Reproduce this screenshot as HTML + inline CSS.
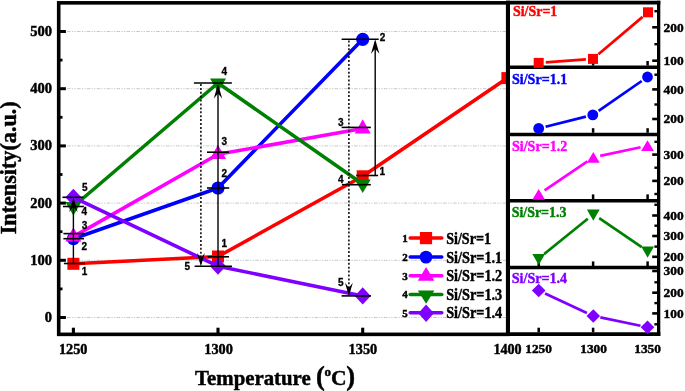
<!DOCTYPE html>
<html><head><meta charset="utf-8"><title>chart</title>
<style>html,body{margin:0;padding:0;background:#fff;}svg{display:block;}</style>
</head><body>
<svg width="685" height="391" viewBox="0 0 685 391">
<defs><filter id="idf" x="0" y="0" width="685" height="391" filterUnits="userSpaceOnUse" color-interpolation-filters="sRGB"><feOffset dx="0" dy="0"/></filter><clipPath id="mainclip"><rect x="57" y="1" width="450.5" height="335"/></clipPath></defs>
<g filter="url(#idf)">
<rect x="0" y="0" width="685" height="391" fill="#fff"/>
<line x1="67" x2="506" y1="317.5" y2="317.5" stroke="#c2c2c2" stroke-width="0.9" stroke-dasharray="3.6 1.3 1.2 1.3 1.2 1.3"/>
<line x1="67" x2="506" y1="260.3" y2="260.3" stroke="#c2c2c2" stroke-width="0.9" stroke-dasharray="3.6 1.3 1.2 1.3 1.2 1.3"/>
<line x1="67" x2="506" y1="203.1" y2="203.1" stroke="#c2c2c2" stroke-width="0.9" stroke-dasharray="3.6 1.3 1.2 1.3 1.2 1.3"/>
<line x1="67" x2="506" y1="145.9" y2="145.9" stroke="#c2c2c2" stroke-width="0.9" stroke-dasharray="3.6 1.3 1.2 1.3 1.2 1.3"/>
<line x1="67" x2="506" y1="88.7" y2="88.7" stroke="#c2c2c2" stroke-width="0.9" stroke-dasharray="3.6 1.3 1.2 1.3 1.2 1.3"/>
<line x1="67" x2="506" y1="31.5" y2="31.5" stroke="#c2c2c2" stroke-width="0.9" stroke-dasharray="3.6 1.3 1.2 1.3 1.2 1.3"/>
<g clip-path="url(#mainclip)">
<polyline points="73.4,263.8 218.0,256.5 362.7,176.3 507.4,78.1" fill="none" stroke="#ff0000" stroke-width="3.6" stroke-linejoin="round"/>
<rect x="67.4" y="257.8" width="12" height="12" fill="#ff0000"/>
<rect x="212.0" y="250.5" width="12" height="12" fill="#ff0000"/>
<rect x="356.7" y="170.3" width="12" height="12" fill="#ff0000"/>
<rect x="501.4" y="72.1" width="12" height="12" fill="#ff0000"/>
<polyline points="73.4,238.7 218.0,188.0 362.7,39.3" fill="none" stroke="#0000ff" stroke-width="3.6" stroke-linejoin="round"/>
<circle cx="73.4" cy="238.7" r="6.6" fill="#0000ff"/>
<circle cx="218.0" cy="188.0" r="6.6" fill="#0000ff"/>
<circle cx="362.7" cy="39.3" r="6.6" fill="#0000ff"/>
<polyline points="73.4,236.6 218.0,154.2 362.7,128.6" fill="none" stroke="#ff00ff" stroke-width="3.6" stroke-linejoin="round"/>
<polygon points="73.4,227.2 81.4,241.5 65.4,241.5" fill="#ff00ff"/>
<polygon points="218.0,144.8 226.0,159.1 210.0,159.1" fill="#ff00ff"/>
<polygon points="362.7,119.2 370.7,133.5 354.7,133.5" fill="#ff00ff"/>
<polyline points="73.4,206.5 218.0,83.0 362.7,184.0" fill="none" stroke="#008000" stroke-width="3.6" stroke-linejoin="round"/>
<polygon points="65.4,201.9 81.4,201.9 73.4,215.5" fill="#008000"/>
<polygon points="210.0,78.4 226.0,78.4 218.0,92.0" fill="#008000"/>
<polygon points="354.7,179.4 370.7,179.4 362.7,193.0" fill="#008000"/>
<polyline points="73.4,197.3 218.0,266.2 362.7,295.9" fill="none" stroke="#8000ff" stroke-width="3.6" stroke-linejoin="round"/>
<polygon points="73.4,188.7 81.4,197.3 73.4,205.9 65.4,197.3" fill="#8000ff"/>
<polygon points="218.0,257.6 226.0,266.2 218.0,274.8 210.0,266.2" fill="#8000ff"/>
<polygon points="362.7,287.3 370.7,295.9 362.7,304.5 354.7,295.9" fill="#8000ff"/>
</g>
<line x1="62.4" x2="83.3" y1="197.3" y2="197.3" stroke="#000" stroke-width="1.6"/>
<line x1="63" x2="83.9" y1="206.5" y2="206.5" stroke="#000" stroke-width="1.6"/>
<line x1="63.4" x2="84.7" y1="233.6" y2="233.6" stroke="#000" stroke-width="1.6"/>
<line x1="63.4" x2="84" y1="238.7" y2="238.7" stroke="#000" stroke-width="1.6"/>
<line x1="63.9" x2="85" y1="263.5" y2="263.5" stroke="#000" stroke-width="1.6"/>
<line x1="193.9" x2="231.9" y1="83" y2="83" stroke="#000" stroke-width="1.6"/>
<line x1="207" x2="229" y1="152.2" y2="152.2" stroke="#000" stroke-width="1.6"/>
<line x1="207" x2="229.2" y1="188" y2="188" stroke="#000" stroke-width="1.6"/>
<line x1="207.7" x2="229" y1="256.8" y2="256.8" stroke="#000" stroke-width="1.6"/>
<line x1="194.6" x2="232" y1="266.2" y2="266.2" stroke="#000" stroke-width="1.6"/>
<line x1="341.6" x2="378.7" y1="39.3" y2="39.3" stroke="#000" stroke-width="1.6"/>
<line x1="341.6" x2="370.8" y1="127.4" y2="127.4" stroke="#000" stroke-width="1.6"/>
<line x1="356.2" x2="378.1" y1="175.5" y2="175.5" stroke="#000" stroke-width="1.6"/>
<line x1="341.9" x2="370.8" y1="184.7" y2="184.7" stroke="#000" stroke-width="1.6"/>
<line x1="341.6" x2="371" y1="295.9" y2="295.9" stroke="#000" stroke-width="1.6"/>
<line x1="73.4" x2="73.4" y1="200.6" y2="263.5" stroke="#000" stroke-width="1.4"/>
<polygon points="73.4,197.6 77.60000000000001,212.1 73.4,207.1 69.2,212.1" fill="#000"/>
<line x1="218" x2="218" y1="87.0" y2="266" stroke="#000" stroke-width="1.4"/>
<polygon points="218,84.0 222.2,98.5 218,93.5 213.8,98.5" fill="#000"/>
<line x1="375.2" x2="375.2" y1="42.2" y2="175.5" stroke="#000" stroke-width="1.4"/>
<polygon points="375.2,39.2 379.4,53.7 375.2,48.7 371.0,53.7" fill="#000"/>
<line x1="200.9" x2="200.9" y1="84" y2="261.5" stroke="#000" stroke-width="1.5" stroke-dasharray="2 1.9"/>
<polygon points="200.9,266.5 204.8,253.0 200.9,258.0 197.0,253.0" fill="#000"/>
<line x1="348.9" x2="348.9" y1="40.5" y2="291.2" stroke="#000" stroke-width="1.5" stroke-dasharray="2 1.9"/>
<polygon points="348.9,296.2 352.79999999999995,282.7 348.9,287.7 345.0,282.7" fill="#000"/>
<text x="81.89999999999999" y="191.35" font-family="Liberation Sans, sans-serif" font-weight="bold" font-size="10px" fill="#000" stroke="#000" stroke-width="0.3">5</text>
<text x="81.6" y="214.95" font-family="Liberation Sans, sans-serif" font-weight="bold" font-size="10px" fill="#000" stroke="#000" stroke-width="0.3">4</text>
<text x="81.8" y="229.15" font-family="Liberation Sans, sans-serif" font-weight="bold" font-size="10px" fill="#000" stroke="#000" stroke-width="0.3">3</text>
<text x="81.6" y="249.65" font-family="Liberation Sans, sans-serif" font-weight="bold" font-size="10px" fill="#000" stroke="#000" stroke-width="0.3">2</text>
<text x="81.8" y="275.15" font-family="Liberation Sans, sans-serif" font-weight="bold" font-size="10px" fill="#000" stroke="#000" stroke-width="0.3">1</text>
<text x="221.4" y="75.45" font-family="Liberation Sans, sans-serif" font-weight="bold" font-size="10px" fill="#000" stroke="#000" stroke-width="0.3">4</text>
<text x="221.4" y="145.15" font-family="Liberation Sans, sans-serif" font-weight="bold" font-size="10px" fill="#000" stroke="#000" stroke-width="0.3">3</text>
<text x="221.4" y="177.05" font-family="Liberation Sans, sans-serif" font-weight="bold" font-size="10px" fill="#000" stroke="#000" stroke-width="0.3">2</text>
<text x="221.4" y="247.45" font-family="Liberation Sans, sans-serif" font-weight="bold" font-size="10px" fill="#000" stroke="#000" stroke-width="0.3">1</text>
<text x="184.60000000000002" y="269.65" font-family="Liberation Sans, sans-serif" font-weight="bold" font-size="10px" fill="#000" stroke="#000" stroke-width="0.3">5</text>
<text x="379.7" y="41.15" font-family="Liberation Sans, sans-serif" font-weight="bold" font-size="10px" fill="#000" stroke="#000" stroke-width="0.3">2</text>
<text x="338.0" y="125.55" font-family="Liberation Sans, sans-serif" font-weight="bold" font-size="10px" fill="#000" stroke="#000" stroke-width="0.3">3</text>
<text x="379.40000000000003" y="175.25" font-family="Liberation Sans, sans-serif" font-weight="bold" font-size="10px" fill="#000" stroke="#000" stroke-width="0.3">1</text>
<text x="338.0" y="183.25" font-family="Liberation Sans, sans-serif" font-weight="bold" font-size="10px" fill="#000" stroke="#000" stroke-width="0.3">4</text>
<text x="338.0" y="285.55" font-family="Liberation Sans, sans-serif" font-weight="bold" font-size="10px" fill="#000" stroke="#000" stroke-width="0.3">5</text>
<rect x="58.7" y="2.85" width="449" height="331.5" fill="none" stroke="#000" stroke-width="3.6"/>
<line x1="60" x2="65.9" y1="317.5" y2="317.5" stroke="#000" stroke-width="3"/>
<line x1="60" x2="65.9" y1="260.3" y2="260.3" stroke="#000" stroke-width="3"/>
<line x1="60" x2="65.9" y1="203.1" y2="203.1" stroke="#000" stroke-width="3"/>
<line x1="60" x2="65.9" y1="145.9" y2="145.9" stroke="#000" stroke-width="3"/>
<line x1="60" x2="65.9" y1="88.7" y2="88.7" stroke="#000" stroke-width="3"/>
<line x1="60" x2="65.9" y1="31.5" y2="31.5" stroke="#000" stroke-width="3"/>
<line x1="60" x2="62.5" y1="288.9" y2="288.9" stroke="#000" stroke-width="2.8"/>
<line x1="60" x2="62.5" y1="231.7" y2="231.7" stroke="#000" stroke-width="2.8"/>
<line x1="60" x2="62.5" y1="174.5" y2="174.5" stroke="#000" stroke-width="2.8"/>
<line x1="60" x2="62.5" y1="117.3" y2="117.3" stroke="#000" stroke-width="2.8"/>
<line x1="60" x2="62.5" y1="60.1" y2="60.1" stroke="#000" stroke-width="2.8"/>
<line x1="73.4" x2="73.4" y1="327.7" y2="333" stroke="#000" stroke-width="3.1"/>
<line x1="218.0" x2="218.0" y1="327.7" y2="333" stroke="#000" stroke-width="3.1"/>
<line x1="362.7" x2="362.7" y1="327.7" y2="333" stroke="#000" stroke-width="3.1"/>
<text stroke="#000" x="52" y="322.0" font-family="Liberation Serif, serif" font-weight="bold" stroke-width="0.45" paint-order="stroke" font-size="14.5px" text-anchor="end" fill="#000" textLength="7.2" lengthAdjust="spacingAndGlyphs">0</text>
<text stroke="#000" x="52" y="264.8" font-family="Liberation Serif, serif" font-weight="bold" stroke-width="0.45" paint-order="stroke" font-size="14.5px" text-anchor="end" fill="#000" textLength="21.8" lengthAdjust="spacingAndGlyphs">100</text>
<text stroke="#000" x="52" y="207.6" font-family="Liberation Serif, serif" font-weight="bold" stroke-width="0.45" paint-order="stroke" font-size="14.5px" text-anchor="end" fill="#000" textLength="21.8" lengthAdjust="spacingAndGlyphs">200</text>
<text stroke="#000" x="52" y="150.4" font-family="Liberation Serif, serif" font-weight="bold" stroke-width="0.45" paint-order="stroke" font-size="14.5px" text-anchor="end" fill="#000" textLength="21.8" lengthAdjust="spacingAndGlyphs">300</text>
<text stroke="#000" x="52" y="93.2" font-family="Liberation Serif, serif" font-weight="bold" stroke-width="0.45" paint-order="stroke" font-size="14.5px" text-anchor="end" fill="#000" textLength="21.8" lengthAdjust="spacingAndGlyphs">400</text>
<text stroke="#000" x="52" y="36.0" font-family="Liberation Serif, serif" font-weight="bold" stroke-width="0.45" paint-order="stroke" font-size="14.5px" text-anchor="end" fill="#000" textLength="21.8" lengthAdjust="spacingAndGlyphs">500</text>
<text stroke="#000" x="73.2" y="353.9" font-family="Liberation Serif, serif" font-weight="bold" stroke-width="0.45" paint-order="stroke" font-size="14.5px" text-anchor="middle" fill="#000" textLength="28.6" lengthAdjust="spacingAndGlyphs">1250</text>
<text stroke="#000" x="218.6" y="353.9" font-family="Liberation Serif, serif" font-weight="bold" stroke-width="0.45" paint-order="stroke" font-size="14.5px" text-anchor="middle" fill="#000" textLength="28.6" lengthAdjust="spacingAndGlyphs">1300</text>
<text stroke="#000" x="362.9" y="353.9" font-family="Liberation Serif, serif" font-weight="bold" stroke-width="0.45" paint-order="stroke" font-size="14.5px" text-anchor="middle" fill="#000" textLength="28.6" lengthAdjust="spacingAndGlyphs">1350</text>
<text stroke="#000" x="521.6" y="353.9" font-family="Liberation Serif, serif" font-weight="bold" stroke-width="0.45" paint-order="stroke" font-size="14.5px" text-anchor="end" fill="#000" textLength="28.2" lengthAdjust="spacingAndGlyphs">1400</text>
<text stroke="#000" x="195.1" y="384.5" font-family="Liberation Serif, serif" font-weight="bold" stroke-width="0.45" paint-order="stroke" font-size="20.3px" fill="#000" textLength="115.6" lengthAdjust="spacingAndGlyphs">Temperature</text>
<text stroke="#000" x="315.9" y="384.8" font-family="Liberation Serif, serif" font-weight="bold" stroke-width="0.45" paint-order="stroke" font-size="26.5px" fill="#000">(</text>
<text stroke="#000" x="324.6" y="376.1" font-family="Liberation Serif, serif" font-weight="bold" stroke-width="0.45" paint-order="stroke" font-size="13px" fill="#000">o</text>
<text stroke="#000" x="330.9" y="384.9" font-family="Liberation Serif, serif" font-weight="bold" stroke-width="0.45" paint-order="stroke" font-size="21.5px" fill="#000">C</text>
<text stroke="#000" x="346.2" y="384.8" font-family="Liberation Serif, serif" font-weight="bold" stroke-width="0.45" paint-order="stroke" font-size="26.5px" fill="#000">)</text>
<text stroke="#000" transform="translate(16.3,234.3) rotate(-90)" font-family="Liberation Serif, serif" font-weight="bold" stroke-width="0.45" paint-order="stroke" font-size="22.4px" fill="#000" textLength="133" lengthAdjust="spacingAndGlyphs">Intensity(a.u.)</text>
<line x1="410.2" x2="441.8" y1="238.1" y2="238.1" stroke="#ff0000" stroke-width="3.5" stroke-linecap="round"/>
<rect x="419.9" y="232.0" width="12.2" height="12.2" fill="#ff0000"/>
<text stroke="#000" x="446.2" y="243.7" font-family="Liberation Serif, serif" font-weight="bold" stroke-width="0.45" paint-order="stroke" font-size="16.2px" fill="#000" textLength="44.8" lengthAdjust="spacingAndGlyphs">Si/Sr=1</text>
<text stroke="#000" x="407.8" y="241.9" font-family="Liberation Serif, serif" font-weight="bold" stroke-width="0.45" paint-order="stroke" font-size="11px" text-anchor="end" fill="#000">1</text>
<line x1="410.2" x2="441.8" y1="257.1" y2="257.1" stroke="#0000ff" stroke-width="3.5" stroke-linecap="round"/>
<circle cx="426.0" cy="257.1" r="6.4" fill="#0000ff"/>
<text stroke="#000" x="446.2" y="262.7" font-family="Liberation Serif, serif" font-weight="bold" stroke-width="0.45" paint-order="stroke" font-size="16.2px" fill="#000" textLength="56" lengthAdjust="spacingAndGlyphs">Si/Sr=1.1</text>
<text stroke="#000" x="407.8" y="260.9" font-family="Liberation Serif, serif" font-weight="bold" stroke-width="0.45" paint-order="stroke" font-size="11px" text-anchor="end" fill="#000">2</text>
<line x1="410.2" x2="441.8" y1="275.8" y2="275.8" stroke="#ff00ff" stroke-width="3.5" stroke-linecap="round"/>
<polygon points="426.1,267.0 434.4,280.7 417.8,280.7" fill="#ff00ff"/>
<text stroke="#000" x="446.2" y="281.4" font-family="Liberation Serif, serif" font-weight="bold" stroke-width="0.45" paint-order="stroke" font-size="16.2px" fill="#000" textLength="56" lengthAdjust="spacingAndGlyphs">Si/Sr=1.2</text>
<text stroke="#000" x="407.8" y="279.6" font-family="Liberation Serif, serif" font-weight="bold" stroke-width="0.45" paint-order="stroke" font-size="11px" text-anchor="end" fill="#000">3</text>
<line x1="410.2" x2="441.8" y1="294.4" y2="294.4" stroke="#008000" stroke-width="3.5" stroke-linecap="round"/>
<polygon points="417.8,290.5 434.4,290.5 426.1,303.7" fill="#008000"/>
<text stroke="#000" x="446.2" y="300.0" font-family="Liberation Serif, serif" font-weight="bold" stroke-width="0.45" paint-order="stroke" font-size="16.2px" fill="#000" textLength="56" lengthAdjust="spacingAndGlyphs">Si/Sr=1.3</text>
<text stroke="#000" x="407.8" y="298.2" font-family="Liberation Serif, serif" font-weight="bold" stroke-width="0.45" paint-order="stroke" font-size="11px" text-anchor="end" fill="#000">4</text>
<line x1="410.2" x2="441.8" y1="312.8" y2="312.8" stroke="#8000ff" stroke-width="3.5" stroke-linecap="round"/>
<polygon points="426.1,304.4 433.9,313.2 426.1,322.0 418.3,313.2" fill="#8000ff"/>
<text stroke="#000" x="446.2" y="318.4" font-family="Liberation Serif, serif" font-weight="bold" stroke-width="0.45" paint-order="stroke" font-size="16.2px" fill="#000" textLength="56" lengthAdjust="spacingAndGlyphs">Si/Sr=1.4</text>
<text stroke="#000" x="407.8" y="316.6" font-family="Liberation Serif, serif" font-weight="bold" stroke-width="0.45" paint-order="stroke" font-size="11px" text-anchor="end" fill="#000">5</text>
<rect x="508" y="3" width="151" height="331" fill="#fff"/>
<line x1="508" x2="659" y1="67.3" y2="67.3" stroke="#000" stroke-width="3.5"/>
<line x1="508" x2="659" y1="134.5" y2="134.5" stroke="#000" stroke-width="3.5"/>
<line x1="508" x2="659" y1="200.7" y2="200.7" stroke="#000" stroke-width="3.5"/>
<line x1="508" x2="659" y1="267.6" y2="267.6" stroke="#000" stroke-width="3.5"/>
<line x1="508" x2="508" y1="0.8" y2="336" stroke="#000" stroke-width="4"/>
<line x1="658.65" x2="658.65" y1="0.8" y2="336" stroke="#000" stroke-width="3.3"/>
<line x1="506" x2="660.3" y1="2.7" y2="2.7" stroke="#000" stroke-width="3.8"/>
<line x1="506" x2="660.3" y1="334.1" y2="334.1" stroke="#000" stroke-width="3.8"/>
<line x1="538.7" x2="538.7" y1="60.99999999999999" y2="65.6" stroke="#000" stroke-width="2.5"/>
<line x1="593.1" x2="593.1" y1="60.99999999999999" y2="65.6" stroke="#000" stroke-width="2.5"/>
<line x1="647.6" x2="647.6" y1="60.99999999999999" y2="65.6" stroke="#000" stroke-width="2.5"/>
<line x1="538.7" x2="538.7" y1="128.20000000000002" y2="132.8" stroke="#000" stroke-width="2.5"/>
<line x1="593.1" x2="593.1" y1="128.20000000000002" y2="132.8" stroke="#000" stroke-width="2.5"/>
<line x1="647.6" x2="647.6" y1="128.20000000000002" y2="132.8" stroke="#000" stroke-width="2.5"/>
<line x1="538.7" x2="538.7" y1="194.4" y2="199" stroke="#000" stroke-width="2.5"/>
<line x1="593.1" x2="593.1" y1="194.4" y2="199" stroke="#000" stroke-width="2.5"/>
<line x1="647.6" x2="647.6" y1="194.4" y2="199" stroke="#000" stroke-width="2.5"/>
<line x1="538.7" x2="538.7" y1="261.4" y2="266" stroke="#000" stroke-width="2.5"/>
<line x1="593.1" x2="593.1" y1="261.4" y2="266" stroke="#000" stroke-width="2.5"/>
<line x1="647.6" x2="647.6" y1="261.4" y2="266" stroke="#000" stroke-width="2.5"/>
<line x1="538.7" x2="538.7" y1="327.7" y2="332.3" stroke="#000" stroke-width="2.5"/>
<line x1="593.1" x2="593.1" y1="327.7" y2="332.3" stroke="#000" stroke-width="2.5"/>
<line x1="647.6" x2="647.6" y1="327.7" y2="332.3" stroke="#000" stroke-width="2.5"/>
<line x1="652.2" x2="657.5" y1="27.3" y2="27.3" stroke="#000" stroke-width="2.6"/>
<text stroke="#000" x="663.6" y="31.7" font-family="Liberation Serif, serif" font-weight="bold" stroke-width="0.45" paint-order="stroke" font-size="13.5px" fill="#000" textLength="20.1" lengthAdjust="spacingAndGlyphs">200</text>
<line x1="652.2" x2="657.5" y1="60.7" y2="60.7" stroke="#000" stroke-width="2.6"/>
<text stroke="#000" x="663.6" y="65.1" font-family="Liberation Serif, serif" font-weight="bold" stroke-width="0.45" paint-order="stroke" font-size="13.5px" fill="#000" textLength="20.1" lengthAdjust="spacingAndGlyphs">100</text>
<line x1="652.2" x2="657.5" y1="89.4" y2="89.4" stroke="#000" stroke-width="2.6"/>
<text stroke="#000" x="663.6" y="93.8" font-family="Liberation Serif, serif" font-weight="bold" stroke-width="0.45" paint-order="stroke" font-size="13.5px" fill="#000" textLength="20.1" lengthAdjust="spacingAndGlyphs">400</text>
<line x1="652.2" x2="657.5" y1="119" y2="119" stroke="#000" stroke-width="2.6"/>
<text stroke="#000" x="663.6" y="123.4" font-family="Liberation Serif, serif" font-weight="bold" stroke-width="0.45" paint-order="stroke" font-size="13.5px" fill="#000" textLength="20.1" lengthAdjust="spacingAndGlyphs">200</text>
<line x1="652.2" x2="657.5" y1="154.6" y2="154.6" stroke="#000" stroke-width="2.6"/>
<text stroke="#000" x="663.6" y="159.0" font-family="Liberation Serif, serif" font-weight="bold" stroke-width="0.45" paint-order="stroke" font-size="13.5px" fill="#000" textLength="20.1" lengthAdjust="spacingAndGlyphs">300</text>
<line x1="652.2" x2="657.5" y1="180.9" y2="180.9" stroke="#000" stroke-width="2.6"/>
<text stroke="#000" x="663.6" y="185.3" font-family="Liberation Serif, serif" font-weight="bold" stroke-width="0.45" paint-order="stroke" font-size="13.5px" fill="#000" textLength="20.1" lengthAdjust="spacingAndGlyphs">200</text>
<line x1="652.2" x2="657.5" y1="215.5" y2="215.5" stroke="#000" stroke-width="2.6"/>
<text stroke="#000" x="663.6" y="219.9" font-family="Liberation Serif, serif" font-weight="bold" stroke-width="0.45" paint-order="stroke" font-size="13.5px" fill="#000" textLength="20.1" lengthAdjust="spacingAndGlyphs">400</text>
<line x1="652.2" x2="657.5" y1="236" y2="236" stroke="#000" stroke-width="2.6"/>
<text stroke="#000" x="663.6" y="240.4" font-family="Liberation Serif, serif" font-weight="bold" stroke-width="0.45" paint-order="stroke" font-size="13.5px" fill="#000" textLength="20.1" lengthAdjust="spacingAndGlyphs">300</text>
<line x1="652.2" x2="657.5" y1="256.8" y2="256.8" stroke="#000" stroke-width="2.6"/>
<text stroke="#000" x="663.6" y="261.2" font-family="Liberation Serif, serif" font-weight="bold" stroke-width="0.45" paint-order="stroke" font-size="13.5px" fill="#000" textLength="20.1" lengthAdjust="spacingAndGlyphs">200</text>
<line x1="652.2" x2="657.5" y1="271" y2="271" stroke="#000" stroke-width="2.6"/>
<text stroke="#000" x="663.6" y="275.4" font-family="Liberation Serif, serif" font-weight="bold" stroke-width="0.45" paint-order="stroke" font-size="13.5px" fill="#000" textLength="20.1" lengthAdjust="spacingAndGlyphs">300</text>
<line x1="652.2" x2="657.5" y1="292.7" y2="292.7" stroke="#000" stroke-width="2.6"/>
<text stroke="#000" x="663.6" y="297.1" font-family="Liberation Serif, serif" font-weight="bold" stroke-width="0.45" paint-order="stroke" font-size="13.5px" fill="#000" textLength="20.1" lengthAdjust="spacingAndGlyphs">200</text>
<line x1="652.2" x2="657.5" y1="313.4" y2="313.4" stroke="#000" stroke-width="2.6"/>
<text stroke="#000" x="663.6" y="317.8" font-family="Liberation Serif, serif" font-weight="bold" stroke-width="0.45" paint-order="stroke" font-size="13.5px" fill="#000" textLength="20.1" lengthAdjust="spacingAndGlyphs">100</text>
<line x1="654.4" x2="657.5" y1="11.2" y2="11.2" stroke="#000" stroke-width="2.4"/>
<line x1="654.4" x2="657.5" y1="44.2" y2="44.2" stroke="#000" stroke-width="2.4"/>
<line x1="654.4" x2="657.5" y1="74.7" y2="74.7" stroke="#000" stroke-width="2.4"/>
<line x1="654.4" x2="657.5" y1="104.5" y2="104.5" stroke="#000" stroke-width="2.4"/>
<line x1="654.4" x2="657.5" y1="141.8" y2="141.8" stroke="#000" stroke-width="2.4"/>
<line x1="654.4" x2="657.5" y1="167.7" y2="167.7" stroke="#000" stroke-width="2.4"/>
<line x1="654.4" x2="657.5" y1="194" y2="194" stroke="#000" stroke-width="2.4"/>
<line x1="654.4" x2="657.5" y1="204.8" y2="204.8" stroke="#000" stroke-width="2.4"/>
<line x1="654.4" x2="657.5" y1="225.7" y2="225.7" stroke="#000" stroke-width="2.4"/>
<line x1="654.4" x2="657.5" y1="246.6" y2="246.6" stroke="#000" stroke-width="2.4"/>
<line x1="654.4" x2="657.5" y1="282.3" y2="282.3" stroke="#000" stroke-width="2.4"/>
<line x1="654.4" x2="657.5" y1="303.1" y2="303.1" stroke="#000" stroke-width="2.4"/>
<line x1="654.4" x2="657.5" y1="324.3" y2="324.3" stroke="#000" stroke-width="2.4"/>
<line x1="545.8" y1="62.4" x2="585.9" y2="59.4" stroke="#ff0000" stroke-width="2.7"/>
<line x1="598.4" y1="54.3" x2="642.6" y2="16.9" stroke="#ff0000" stroke-width="2.7"/>
<rect x="533.7" y="57.9" width="10" height="10" fill="#ff0000"/>
<rect x="588.0" y="53.9" width="10" height="10" fill="#ff0000"/>
<rect x="643.0" y="7.3" width="10" height="10" fill="#ff0000"/>
<line x1="545.6" y1="126.7" x2="585.9" y2="116.6" stroke="#0000ff" stroke-width="2.7"/>
<line x1="598.6" y1="110.9" x2="641.7" y2="81.0" stroke="#0000ff" stroke-width="2.7"/>
<circle cx="538.7" cy="128.4" r="5.4" fill="#0000ff"/>
<circle cx="592.8" cy="114.9" r="5.4" fill="#0000ff"/>
<circle cx="647.5" cy="77.0" r="5.4" fill="#0000ff"/>
<line x1="544.6" y1="190.4" x2="587.4" y2="161.4" stroke="#ff00ff" stroke-width="2.7"/>
<line x1="600.2" y1="155.9" x2="640.6" y2="147.2" stroke="#ff00ff" stroke-width="2.7"/>
<polygon points="538.7,189.0 545.1,199.7 532.3,199.7" fill="#ff00ff"/>
<polygon points="593.3,152.0 599.7,162.7 586.9,162.7" fill="#ff00ff"/>
<polygon points="647.5,140.3 653.9,151.0 641.1,151.0" fill="#ff00ff"/>
<line x1="544.2" y1="254.0" x2="587.8" y2="218.7" stroke="#008000" stroke-width="2.7"/>
<line x1="599.2" y1="218.2" x2="641.7" y2="247.1" stroke="#008000" stroke-width="2.7"/>
<polygon points="532.3,253.9 545.1,253.9 538.7,265.1" fill="#008000"/>
<polygon points="586.9,209.6 599.7,209.6 593.3,220.8" fill="#008000"/>
<polygon points="641.2,246.5 654.0,246.5 647.6,257.7" fill="#008000"/>
<line x1="545.1" y1="293.5" x2="586.9" y2="313.0" stroke="#8000ff" stroke-width="2.7"/>
<line x1="600.3" y1="317.4" x2="640.5" y2="325.8" stroke="#8000ff" stroke-width="2.7"/>
<polygon points="538.7,283.8 545.5,290.5 538.7,297.2 531.9,290.5" fill="#8000ff"/>
<polygon points="593.3,309.3 600.1,316.0 593.3,322.7 586.5,316.0" fill="#8000ff"/>
<polygon points="647.5,320.5 654.3,327.2 647.5,333.9 640.7,327.2" fill="#8000ff"/>
<text stroke="#ff0000" x="513" y="16.4" font-family="Liberation Serif, serif" font-weight="bold" stroke-width="0.45" paint-order="stroke" font-size="15.5px" fill="#ff0000" textLength="44.3" lengthAdjust="spacingAndGlyphs">Si/Sr=1</text>
<text stroke="#0000ff" x="512" y="83.9" font-family="Liberation Serif, serif" font-weight="bold" stroke-width="0.45" paint-order="stroke" font-size="15.5px" fill="#0000ff" textLength="55.2" lengthAdjust="spacingAndGlyphs">Si/Sr=1.1</text>
<text stroke="#ff00ff" x="512" y="151" font-family="Liberation Serif, serif" font-weight="bold" stroke-width="0.45" paint-order="stroke" font-size="15.5px" fill="#ff00ff" textLength="55.2" lengthAdjust="spacingAndGlyphs">Si/Sr=1.2</text>
<text stroke="#008000" x="511.7" y="217.4" font-family="Liberation Serif, serif" font-weight="bold" stroke-width="0.45" paint-order="stroke" font-size="15.5px" fill="#008000" textLength="54.7" lengthAdjust="spacingAndGlyphs">Si/Sr=1.3</text>
<text stroke="#8000ff" x="511.7" y="283.2" font-family="Liberation Serif, serif" font-weight="bold" stroke-width="0.45" paint-order="stroke" font-size="15.5px" fill="#8000ff" textLength="55.5" lengthAdjust="spacingAndGlyphs">Si/Sr=1.4</text>
<text stroke="#000" x="538.6" y="353.2" font-family="Liberation Serif, serif" font-weight="bold" stroke-width="0.45" paint-order="stroke" font-size="13.5px" text-anchor="middle" fill="#000" textLength="26.8" lengthAdjust="spacingAndGlyphs">1250</text>
<text stroke="#000" x="593.6" y="353.2" font-family="Liberation Serif, serif" font-weight="bold" stroke-width="0.45" paint-order="stroke" font-size="13.5px" text-anchor="middle" fill="#000" textLength="26.8" lengthAdjust="spacingAndGlyphs">1300</text>
<text stroke="#000" x="647.6" y="353.2" font-family="Liberation Serif, serif" font-weight="bold" stroke-width="0.45" paint-order="stroke" font-size="13.5px" text-anchor="middle" fill="#000" textLength="26.8" lengthAdjust="spacingAndGlyphs">1350</text>
</g>
</svg>
</body></html>
